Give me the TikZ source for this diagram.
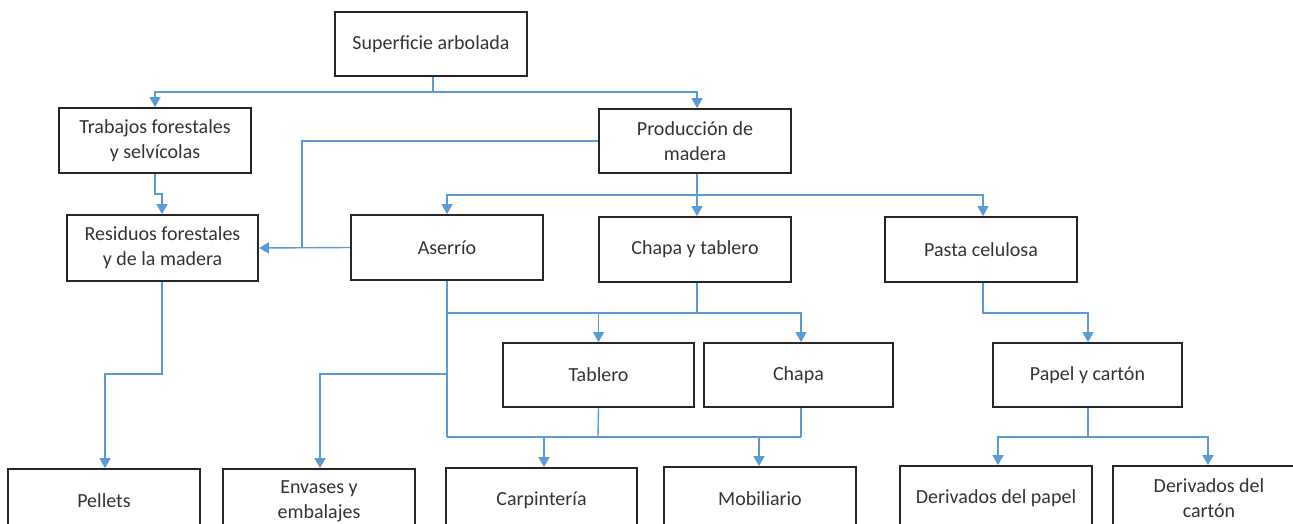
\documentclass[tikz,border=0pt]{standalone}
\usepackage{fontspec}
\setmainfont{Carlito}
\usetikzlibrary{arrows.meta}
\definecolor{lnblue}{HTML}{5B9BD5}
\definecolor{txtgray}{HTML}{333333}
\tikzset{
  box/.style={draw=black!85, line width=1.8pt, minimum width=192pt, minimum height=64pt,
    inner sep=0pt, align=center, text=txtgray, font=\fontsize{20}{25}\selectfont},
  flow/.style={draw=lnblue, line width=1.4pt},
  arr/.style={flow, -{Triangle[width=11pt,length=10pt]}},
}
\begin{document}
\begin{tikzpicture}[x=1pt,y=-1pt]
\useasboundingbox (0,0) rectangle (1293,523);
\clip (0,0) rectangle (1293,523);
% boxes
\node[box] (sup) at (431,44) {Superficie arbolada};
\node[box, minimum height=65pt] (trab) at (155,140.5) {Trabajos forestales\\y selvícolas};
\node[box] (prod) at (695,141) {Producción de\\madera};
\node[box, minimum width=191pt, minimum height=66pt] (res) at (162.5,248) {Residuos forestales\\y de la madera};
\node[box, minimum height=65pt] (ase) at (447,247.5) {Aserrío};
\node[box, minimum height=65pt] (cyt) at (695,249.5) {Chapa y tablero};
\node[box, minimum height=65pt] (pas) at (981,249.5) {Pasta celulosa};
\node[box, minimum width=191pt] (tab) at (598.5,375) {Tablero};
\node[box, minimum width=189pt] (cha) at (798.5,375) {Chapa};
\node[box, minimum width=189pt] (pap) at (1087.5,375) {Papel y cartón};
\node[box] (pel) at (104,501) {Pellets};
\node[box] (env) at (319,501) {Envases y\\embalajes};
\node[box, minimum width=191pt] (car) at (541.5,500) {Carpintería};
\node[box] (mob) at (760,499) {Mobiliario};
\node[box] (dpa) at (996,498) {Derivados del papel};
\node[box] (dca) at (1209,498) {Derivados del\\cartón};
% junction coordinates
\coordinate (j1) at (433,92);
\coordinate (j2) at (697,195);
\coordinate (j3) at (697,313);
\coordinate (j4) at (1088,437);
\coordinate (ja) at (447,313);
\coordinate (jb) at (447,374);
\coordinate (jc) at (447,437);
\coordinate (jd) at (162,374);
\coordinate (je) at (983,313);
% connectors
\draw[flow] (sup.south -| j1) -- (j1);
\draw[arr] (j1) -| (trab.north);
\draw[arr] (j1) -| (prod.north -| j2);
\draw[flow] (prod.south -| j2) -- (j2);
\draw[arr] (j2) -| (ase.north);
\draw[arr] (j2) -- (cyt.north -| j2);
\draw[arr] (j2) -| (pas.north -| 983,0);
\draw[arr] (trab.south) -- (155,194) -- (162,194) -- (res.north -| 162,0);
\draw[arr] (ase.west) -- (res.east);
\draw[flow] (prod.west) -| (302,248);
\draw[arr] (res.south -| jd) -- (jd) -| (pel.north -| 105,0);
\draw[flow] (ase.south) -- (jc);
\draw[arr] (jb) -| (env.north -| 320,0);
\draw[flow] (cyt.south -| j3) -- (j3);
\draw[flow] (ja) -- (j3);
\draw[arr] (j3) -| (tab.north);
\draw[arr] (j3) -| (cha.north -| 801,0);
\draw[flow] (tab.south) -- (598,437);
\draw[flow] (cha.south -| 801,0) -- (801,437);
\draw[flow] (jc) -- (801,437);
\draw[arr] (544,437) -- (car.north -| 544,0);
\draw[arr] (759,437) -- (mob.north -| 759,0);
\draw[arr] (pas.south -| je) -- (je) -| (pap.north -| j4);
\draw[flow] (pap.south -| j4) -- (j4);
\draw[arr] (j4) -| (dpa.north -| 998,0);
\draw[arr] (j4) -| (dca.north -| 1208,0);
\end{tikzpicture}
\end{document}
